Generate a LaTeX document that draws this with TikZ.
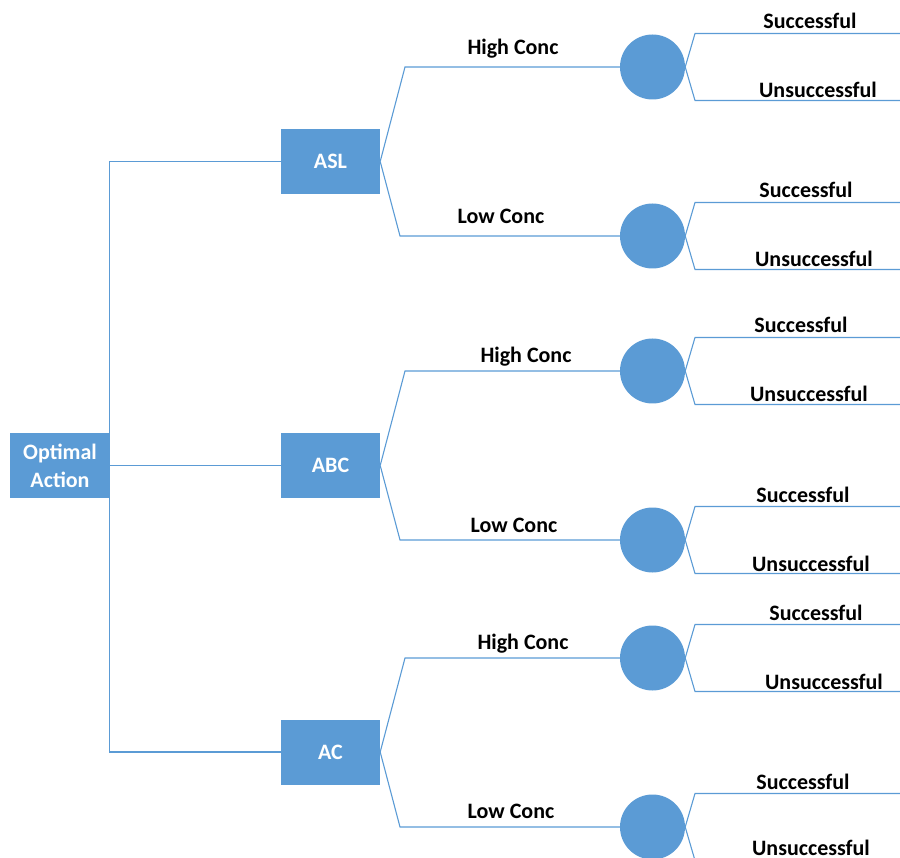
\documentclass[tikz,border=0pt]{standalone}
\usepackage{fontspec}
\setmainfont{Carlito}
\definecolor{lblue}{HTML}{5B9BD5}
\begin{document}
\begin{tikzpicture}[x=1pt,y=-1pt,
  conn/.style={draw=lblue, line width=1.1pt},
  decbox/.style={fill=lblue, minimum height=65pt, text=white, font=\bfseries\fontsize{22}{28}\selectfont, inner sep=0pt, align=center},
  chance/.style={circle, fill=lblue, minimum size=65pt, inner sep=0pt},
  lbl/.style={font=\bfseries\fontsize{22}{26}\selectfont, inner sep=0pt, anchor=base}]
\useasboundingbox (0,0) rectangle (900,858);

% decision boxes
\node[decbox, minimum width=100pt] (oa) at (60,465.5) {Optimal\\Action};
\node[decbox, minimum width=99pt] (asl) at (330.5,161.5) {ASL};
\node[decbox, minimum width=99pt] (abc) at (330.5,465.5) {ABC};
\node[decbox, minimum width=99pt] (ac) at (330.5,752) {AC};

% root connectors
\coordinate (oas) at (83,465.5);
\draw[conn] (oas) -- (abc.west);
\draw[conn] (asl.west) -- ++(-171,0) |- (ac.west);

% chance nodes
\foreach \n/\y in {1/67,2/236,3/371,4/540,5/658,6/827}{
  \node[chance] (c\n) at (652.5,\y) {};
}

% branch corners
\coordinate (k1) at (405,67);
\coordinate (k2) at (400,236);
\coordinate (k3) at (405,371);
\coordinate (k4) at (400,540);
\coordinate (k5) at (405,658);
\coordinate (k6) at (400,827);

\draw[conn] (asl.east) -- (k1) -- (c1.west);
\draw[conn] (asl.east) -- (k2) -- (c2.west);
\draw[conn] (abc.east) -- (k3) -- (c3.west);
\draw[conn] (abc.east) -- (k4) -- (c4.west);
\draw[conn] (ac.east) -- (k5) -- (c5.west);
\draw[conn] (ac.east) -- (k6) -- (c6.west);

% concentration labels
\node[lbl] (h1) at (513,55) {High Conc};
\node[lbl] (l1) at (501,224) {Low Conc};
\node[lbl] (h2) at (526,363) {High Conc};
\node[lbl] (l2) at (514,532) {Low Conc};
\node[lbl] (h3) at (523,649) {High Conc};
\node[lbl] (l3) at (511,818) {Low Conc};

% outcome branches
\foreach \n/\y in {1/67,2/236,3/371,4/540,5/658,6/827}{
  \coordinate (su\n) at (695,\y-33.5);
  \coordinate (uu\n) at (695,\y+33.5);
  \coordinate (se\n) at (900,\y-33.5);
  \coordinate (ue\n) at (900,\y+33.5);
  \draw[conn] (c\n.east) -- (su\n) -- (se\n);
  \draw[conn] (c\n.east) -- (uu\n) -- (ue\n);
}

% outcome labels
\foreach \n/\y/\sx/\ux/\d in {1/67/810/818/31,2/236/806/814/31,3/371/801/809/31,4/540/803/811/31,5/658/816/824/31,6/827/803/811/28}{
  \node[lbl] (sl\n) at (\sx,\y-38) {Successful};
  \node[lbl] (ul\n) at (\ux,\y+\d) {Unsuccessful};
}
\end{tikzpicture}
\end{document}
